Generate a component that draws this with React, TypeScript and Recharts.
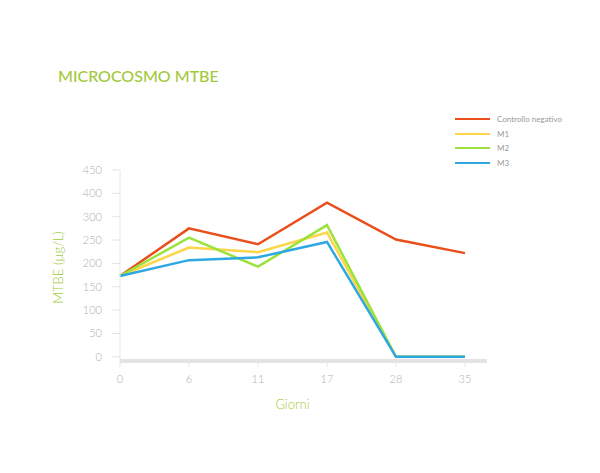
import React from 'react';
import { LineChart, Line, XAxis, YAxis } from 'recharts';

const days = ['0', '6', '11', '17', '28', '35'];
const controlloNegativo = [173, 275, 241, 330, 251, 222];
const m1 = [173, 234, 224, 266, 0, 0];
const m2 = [173, 255, 193, 282, 0, 0];
const m3 = [173, 207, 213, 246, 0, 0];
const yTickValues = [0, 50, 100, 150, 200, 250, 300, 350, 400];
const yTickLabels = ['0', '50', '100', '150', '200', '250', '300', '400', '450'];

const seriesNames = ['Controllo negativo', 'M1', 'M2', 'M3'];
const colors = ['#e94e1b', '#fdd548', '#9be23c', '#2ea8e2'];

const data = days.map((d, i) => ({
  day: d,
  s0: controlloNegativo[i],
  s1: m1[i],
  s2: m2[i],
  s3: m3[i],
}));

const FONT = 'Lato, "Open Sans", sans-serif';

export default function App() {
  return (
    <div style={{ position: 'absolute', left: 0, top: 0, width: 600, height: 473, background: '#fff', fontFamily: FONT }}>
      <div style={{ position: 'absolute', left: 58, top: 66, fontSize: 16, fontWeight: 500, color: '#a3c93a', letterSpacing: 0 }}>
        MICROCOSMO MTBE
      </div>
      <div style={{ position: 'absolute', left: 455, top: 112 }}>
        {seriesNames.map((n, i) => (
          <div key={n} style={{ display: 'flex', alignItems: 'center', height: 14.5 }}>
            <div style={{ width: 35, height: 2, background: colors[i] }} />
            <span style={{ marginLeft: 7, fontSize: 8, fontWeight: 400, color: '#999' }}>{n}</span>
          </div>
        ))}
      </div>
      <div style={{ position: 'absolute', left: 0, top: 0 }}>
        <LineChart width={600} height={473} data={data} margin={{ top: 170, right: 113, bottom: 82, left: 50 }}>
          <XAxis
            dataKey="day"
            padding={{ left: 0, right: 22 }}
            height={30}
            axisLine={{ stroke: '#e3e3e3', strokeWidth: 4 }}
            tickLine={{ stroke: '#e6e6e6' }}
            tickSize={6}
            tickMargin={8}
            tick={{ fill: '#b0b0b0', fontSize: 11, fontWeight: 300, fontFamily: FONT }}
            label={{ value: 'Giorni', position: 'bottom', offset: 9, dx: -11, fill: '#a3c93a', fontSize: 13, fontWeight: 300, fontFamily: FONT }}
          />
          <YAxis
            type="number"
            domain={[-9, 400]}
            ticks={yTickValues}
            tickFormatter={(v: number) => yTickLabels[yTickValues.indexOf(v)]}
            width={70}
            axisLine={{ stroke: '#e8e8e8' }}
            tickLine={{ stroke: '#e3e3e3' }}
            tickSize={8}
            tickMargin={10}
            interval={0}
            tick={{ fill: '#b0b0b0', fontSize: 11, fontWeight: 300, fontFamily: FONT }}
            label={{ value: 'MTBE (µg/L)', angle: -90, position: 'insideLeft', offset: 8, dy: 2, fill: '#a3c93a', fontSize: 13, fontWeight: 300, fontFamily: FONT, style: { textAnchor: 'middle' } }}
          />
          <Line dataKey="s0" name={seriesNames[0]} stroke={colors[0]} strokeWidth={2.5} dot={false} isAnimationActive={false} />
          <Line dataKey="s1" name={seriesNames[1]} stroke={colors[1]} strokeWidth={2.5} dot={false} isAnimationActive={false} />
          <Line dataKey="s2" name={seriesNames[2]} stroke={colors[2]} strokeWidth={2.5} dot={false} isAnimationActive={false} />
          <Line dataKey="s3" name={seriesNames[3]} stroke={colors[3]} strokeWidth={2.5} dot={false} isAnimationActive={false} />
        </LineChart>
      </div>
    </div>
  );
}
